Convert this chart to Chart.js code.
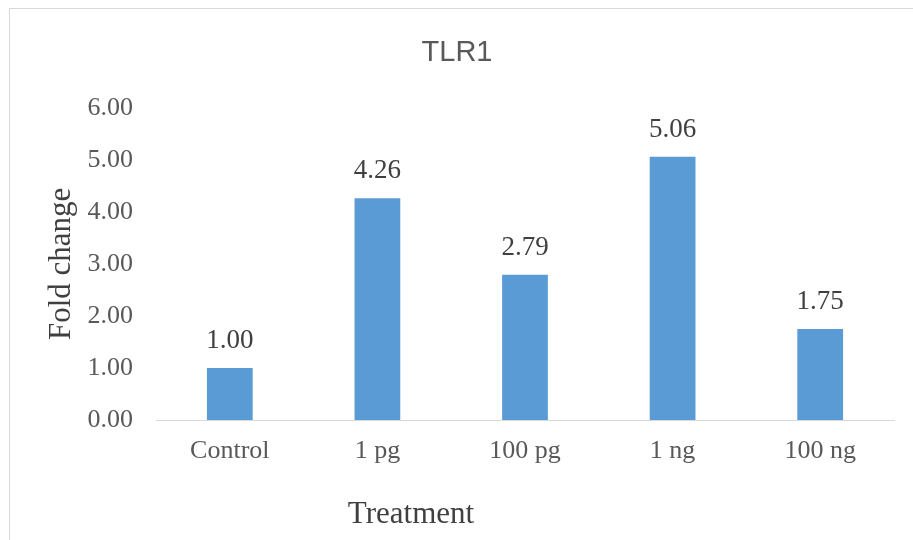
<!DOCTYPE html>
<html>
<head>
<meta charset="utf-8">
<script src="https://cdn.jsdelivr.net/npm/chart.js@4.4.1/dist/chart.umd.min.js"></script>
<style>
    html, body { margin: 0; padding: 0; background: #fff; }
    #wrap { position: relative; width: 913px; height: 540px; overflow: hidden; }
    #frame { position: absolute; left: 9px; top: 8px; width: 1000px; height: 600px; border: 1px solid #d9d9d9; }
    canvas { position: absolute; left: 0; top: 0; }
</style>
</head>
<body>
<div id="wrap">
    <div id="frame"></div>
    <canvas id="tlr1-chart" width="913" height="540"></canvas>
</div>
<script>
    var categories = ["Control", "1 pg", "100 pg", "1 ng", "100 ng"];
    var foldChange = [1.00, 4.26, 2.79, 5.06, 1.75];
    var yTicks = [0, 1, 2, 3, 4, 5, 6];

    var serif = '"Liberation Serif", "Times New Roman", serif';

    // value labels above each bar
    var valueLabels = {
        id: 'valueLabels',
        afterDatasetsDraw: function (chart) {
            var ctx = chart.ctx;
            var meta = chart.getDatasetMeta(0);
            ctx.save();
            ctx.font = '27px ' + serif;
            ctx.fillStyle = '#404040';
            ctx.textAlign = 'center';
            ctx.textBaseline = 'alphabetic';
            meta.data.forEach(function (bar, i) {
                ctx.fillText(foldChange[i].toFixed(2), bar.x, bar.y - 20);
            });
            ctx.restore();
        }
    };

    // x axis title sits left of centre in the original
    var xTitle = {
        id: 'xTitle',
        afterDraw: function (chart) {
            var ctx = chart.ctx;
            var area = chart.chartArea;
            ctx.save();
            ctx.font = '31px ' + serif;
            ctx.fillStyle = '#404040';
            ctx.textAlign = 'center';
            ctx.textBaseline = 'middle';
            ctx.fillText('Treatment', area.left + 255, 515);
            ctx.restore();
        }
    };

    var ctx = document.getElementById('tlr1-chart').getContext('2d');
    var chart = new Chart(ctx, {
        type: 'bar',
        data: {
            labels: categories,
            datasets: [{
                label: 'Fold change',
                data: foldChange,
                backgroundColor: '#5b9bd5',
                borderWidth: 0,
                barPercentage: 1,
                categoryPercentage: 0.31
            }]
        },
        options: {
            responsive: false,
            animation: false,
            layout: {
                padding: {left: 20, right: 19, top: 26, bottom: 0}
            },
            plugins: {
                legend: {display: false},
                tooltip: {enabled: false},
                title: {
                    display: true,
                    text: 'TLR1',
                    color: '#595959',
                    font: {family: '"Liberation Sans", Arial, sans-serif', size: 29, weight: 'normal'},
                    padding: {top: 10, bottom: 37}
                }
            },
            scales: {
                x: {
                    grid: {display: false, drawTicks: false},
                    border: {display: true, color: '#d9d9d9', width: 1},
                    ticks: {
                        color: '#595959',
                        font: {family: serif, size: 26},
                        padding: 16
                    },
                    afterFit: function (scale) {
                        scale.height = 120;
                    }
                },
                y: {
                    min: 0,
                    max: 6,
                    grid: {display: false, drawTicks: false},
                    border: {display: false},
                    afterBuildTicks: function (scale) {
                        scale.ticks = yTicks.map(function (v) { return {value: v}; });
                    },
                    ticks: {
                        color: '#595959',
                        font: {family: serif, size: 26},
                        padding: 23,
                        callback: function (v) { return Number(v).toFixed(2); }
                    },
                    title: {
                        display: true,
                        text: 'Fold change',
                        color: '#404040',
                        font: {family: serif, size: 31},
                        padding: {top: 23, bottom: 0}
                    },
                    afterFit: function (scale) {
                        scale.width = 136;
                    }
                }
            }
        },
        plugins: [valueLabels, xTitle]
    });
</script>
</body>
</html>
